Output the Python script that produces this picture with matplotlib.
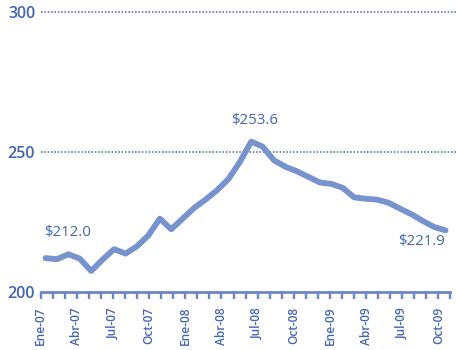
import matplotlib
matplotlib.use("Agg")
import matplotlib.pyplot as plt

# ---- data ----
months = ["Ene-07", "Feb-07", "Mar-07", "Abr-07", "May-07", "Jun-07", "Jul-07", "Ago-07",
          "Sep-07", "Oct-07", "Nov-07", "Dic-07", "Ene-08", "Feb-08", "Mar-08", "Abr-08",
          "May-08", "Jun-08", "Jul-08", "Ago-08", "Sep-08", "Oct-08", "Nov-08", "Dic-08",
          "Ene-09", "Feb-09", "Mar-09", "Abr-09", "May-09", "Jun-09", "Jul-09", "Ago-09",
          "Sep-09", "Oct-09", "Nov-09"]
shown_labels = ["Ene-07", "Abr-07", "Jul-07", "Oct-07", "Ene-08", "Abr-08", "Jul-08",
                "Oct-08", "Ene-09", "Abr-09", "Jul-09", "Oct-09"]
values = [212.0, 211.6, 213.4, 211.8, 207.4, 211.5, 215.2, 213.6, 216.2, 220.1,
          226.1, 222.3, 226.1, 229.9, 232.9, 236.2, 240.2, 246.3, 253.6, 251.8,
          246.9, 244.6, 243.0, 241.0, 239.0, 238.5, 237.1, 233.7, 233.2, 232.9,
          231.8, 229.7, 227.7, 225.3, 223.1, 221.9]
annot_idx = [0, 18, 35]
annot_text = ["$212.0", "$253.6", "$221.9"]
yticks = [200, 250, 300]

# ---- style ----
LINE = "#7693cd"
TEXT = "#4266b2"
AXC = "#6a88c6"
plt.rcParams['font.family'] = ['Open Sans', 'DejaVu Sans']

W, H = 457, 350
fig = plt.figure(figsize=(W / 100, H / 100), dpi=100)
left_px, right_px = 40.7, 456.0
bot_px, top_px = 291.7, 11.7
ax = fig.add_axes([left_px / W, 1 - bot_px / H, (right_px - left_px) / W, (bot_px - top_px) / H])

tick_step = 12.05
ax.set_xlim(0, (right_px - left_px) / tick_step)
ax.set_ylim(200, 300)

for s in ["top", "right", "left"]:
    ax.spines[s].set_visible(False)
ax.spines["bottom"].set_color(AXC)
ax.spines["bottom"].set_linewidth(2.0)
ax.spines["bottom"].set_bounds(0, len(months) - 1)

ax.set_xticks(range(len(months)))
ax.set_xticklabels([m if m in shown_labels else "" for m in months],
                   rotation=90, fontsize=8.6, color=TEXT, fontweight="semibold")
ax.tick_params(axis="x", which="major", bottom=True, direction="out", length=5,
               width=1.6, color=AXC, pad=6)

# month tick marks hanging from the baseline, drawn as vertical segments
ax.vlines(range(len(months)), ymin=yticks[0] - 2.2, ymax=yticks[0], colors=AXC,
          linewidth=1.6, clip_on=False, zorder=4)

ax.set_yticks(yticks)
ax.set_yticklabels([str(v) for v in yticks], fontsize=11.5, color=TEXT, fontweight="semibold")
ax.tick_params(axis="y", length=0, pad=4)

for yv in yticks[1:]:
    ax.axhline(yv, xmin=0, xmax=1, color=TEXT, lw=1.1, linestyle=(0, (1, 1.2)),
               clip_on=False, zorder=1)

# line drawn on its own x scale (points spaced slightly tighter than the month ticks)
ax2 = fig.add_axes(ax.get_position(), frameon=False)
pt_step = 11.43
lo = -(45.5 - left_px) / pt_step
ax2.set_xlim(lo, lo + (right_px - left_px) / pt_step)
ax2.set_ylim(200, 300)
ax2.set_xticks([])
ax2.set_yticks([])
ax2.plot(range(len(values)), values, color=LINE, lw=4.2, solid_joinstyle="round",
         solid_capstyle="round", zorder=3)

offsets = [(16, 18.5), (2.7, 15), (-17, -8)]
for i, t, off in zip(annot_idx, annot_text, offsets):
    ax2.annotate(t, (i, values[i]), xytext=off, textcoords="offset points",
                 ha="center", va="center", fontsize=10.8, color=TEXT)

fig.savefig("out.png", dpi=100)
